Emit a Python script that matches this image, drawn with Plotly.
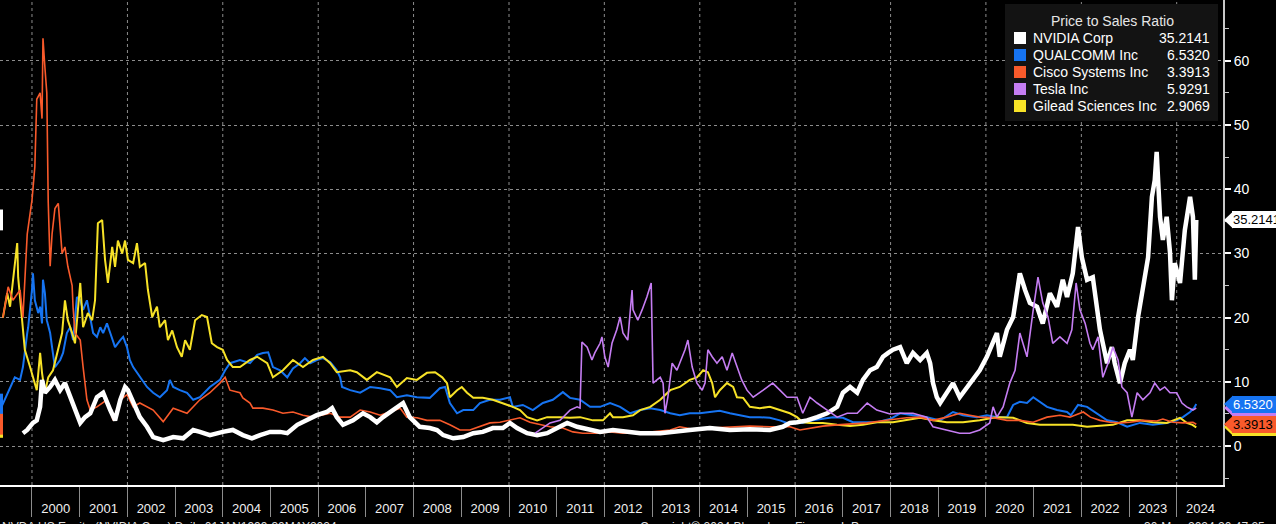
import numpy as np
import pandas as pd
import plotly.graph_objects as go

# ---------------- data (decimal-year time stamps, price/sales values) ----------------
nvda_t = [1999.81, 1999.90, 2000.02, 2000.10, 2000.17, 2000.21, 2000.27, 2000.38, 2000.48, 2000.59,
          2000.69, 2000.80, 2000.90, 2001.01, 2001.11, 2001.22, 2001.36, 2001.49, 2001.64, 2001.74,
          2001.85, 2001.95, 2002.01, 2002.12, 2002.26, 2002.41, 2002.54, 2002.75, 2002.96, 2003.17,
          2003.38, 2003.52, 2003.73, 2004.00, 2004.21, 2004.42, 2004.61, 2004.78, 2004.99, 2005.20,
          2005.35, 2005.56, 2005.77, 2005.97, 2006.18, 2006.29, 2006.39, 2006.52, 2006.73, 2006.94,
          2007.09, 2007.23, 2007.36, 2007.57, 2007.78, 2007.92, 2008.13, 2008.34, 2008.49, 2008.62,
          2008.83, 2009.04, 2009.25, 2009.45, 2009.66, 2009.87, 2010.02, 2010.17, 2010.38, 2010.59,
          2010.80, 2011.01, 2011.22, 2011.43, 2011.64, 2011.91, 2012.18, 2012.47, 2012.75, 2013.17,
          2013.38, 2013.79, 2014.21, 2014.63, 2015.05, 2015.47, 2015.74, 2015.89, 2016.04, 2016.25,
          2016.46, 2016.67, 2016.88, 2017.00, 2017.15, 2017.30, 2017.42, 2017.57, 2017.71, 2017.84,
          2017.95, 2018.05, 2018.20, 2018.34, 2018.47, 2018.62, 2018.76, 2018.83, 2018.89, 2018.97,
          2019.04, 2019.18, 2019.31, 2019.45, 2019.60, 2019.73, 2019.87, 2020.02, 2020.15, 2020.23,
          2020.29, 2020.44, 2020.57, 2020.71, 2020.82, 2020.92, 2021.07, 2021.19, 2021.34, 2021.49,
          2021.61, 2021.70, 2021.82, 2021.93, 2022.01, 2022.12, 2022.24, 2022.33, 2022.39, 2022.45,
          2022.54, 2022.64, 2022.70, 2022.81, 2022.91, 2023.02, 2023.08, 2023.19, 2023.29, 2023.40,
          2023.48, 2023.54, 2023.58, 2023.65, 2023.71, 2023.79, 2023.86, 2023.90, 2023.96, 2024.07,
          2024.17, 2024.28, 2024.34, 2024.38, 2024.41]
nvda_v = [2.0, 2.5, 3.6, 4.0, 6.1, 10.3, 8.3, 9.2, 10.3, 8.7,
          9.8, 7.6, 5.6, 3.6, 4.5, 5.1, 7.6, 8.3, 5.6, 4.0,
          7.2, 9.2, 8.7, 6.7, 4.5, 3.0, 1.4, 0.9, 1.4, 1.2,
          2.5, 2.2, 1.7, 2.2, 2.5, 1.7, 1.2, 1.7, 2.2, 2.2,
          2.0, 3.3, 4.0, 4.8, 5.3, 5.9, 4.5, 3.3, 4.0, 5.1,
          4.5, 3.7, 4.5, 5.6, 6.7, 4.5, 3.0, 2.8, 2.5, 1.7,
          1.2, 1.4, 2.0, 2.2, 2.8, 2.8, 3.6, 2.8, 2.0, 1.7,
          2.0, 2.8, 3.6, 3.0, 2.6, 2.2, 2.5, 2.2, 2.0, 2.0,
          2.2, 2.5, 2.8, 2.5, 2.6, 2.5, 3.0, 3.6, 3.7, 4.0,
          4.5, 5.1, 6.1, 8.3, 9.2, 8.3, 10.3, 11.8, 12.3, 13.9,
          14.5, 15.0, 15.4, 12.9, 14.5, 13.4, 14.5, 12.9, 9.8, 7.6,
          6.7, 8.3, 9.8, 7.6, 9.2, 10.6, 11.8, 13.9, 16.0, 17.6,
          13.9, 18.1, 20.1, 26.9, 24.3, 22.3, 21.7, 19.1, 23.8, 21.7,
          25.9, 23.2, 26.9, 34.1, 29.4, 25.9, 26.3, 20.7, 18.1, 16.0,
          12.9, 15.4, 12.9, 9.8, 12.9, 15.0, 13.4, 20.1, 24.3, 29.4,
          38.8, 41.4, 45.8, 35.7, 32.1, 35.7, 30.1, 22.7, 28.5, 25.4,
          33.6, 38.8, 35.7, 25.9, 35.2141]

qcom_t = [1999.33, 1999.43, 1999.54, 1999.64, 1999.75, 1999.81, 1999.90, 1999.92, 2000.00, 2000.02,
          2000.06, 2000.13, 2000.17, 2000.21, 2000.23, 2000.27, 2000.31, 2000.38, 2000.42, 2000.48,
          2000.59, 2000.65, 2000.73, 2000.80, 2000.86, 2000.94, 2001.01, 2001.07, 2001.15, 2001.22,
          2001.28, 2001.36, 2001.43, 2001.49, 2001.57, 2001.64, 2001.74, 2001.85, 2001.91, 2001.99,
          2002.05, 2002.12, 2002.20, 2002.26, 2002.41, 2002.54, 2002.68, 2002.83, 2002.89, 2002.96,
          2003.10, 2003.25, 2003.38, 2003.52, 2003.73, 2003.94, 2004.05, 2004.15, 2004.36, 2004.57,
          2004.72, 2004.84, 2004.95, 2005.05, 2005.20, 2005.35, 2005.47, 2005.62, 2005.72, 2005.83,
          2005.97, 2006.10, 2006.25, 2006.39, 2006.46, 2006.50, 2006.67, 2006.88, 2007.09, 2007.30,
          2007.51, 2007.65, 2007.86, 2008.07, 2008.34, 2008.55, 2008.66, 2008.76, 2008.91, 2009.04,
          2009.25, 2009.39, 2009.60, 2009.81, 2010.02, 2010.08, 2010.29, 2010.50, 2010.71, 2010.92,
          2011.13, 2011.28, 2011.49, 2011.70, 2011.91, 2012.12, 2012.33, 2012.54, 2012.75, 2012.96,
          2013.17, 2013.38, 2013.58, 2013.79, 2014.00, 2014.21, 2014.42, 2014.63, 2014.84, 2015.05,
          2015.26, 2015.47, 2015.68, 2015.83, 2016.04, 2016.16, 2016.37, 2016.58, 2016.79, 2017.00,
          2017.21, 2017.42, 2017.71, 2017.99, 2018.20, 2018.47, 2018.76, 2019.04, 2019.31, 2019.52,
          2019.81, 2020.02, 2020.23, 2020.44, 2020.57, 2020.71, 2020.86, 2020.99, 2021.13, 2021.28,
          2021.49, 2021.70, 2021.78, 2021.93, 2022.12, 2022.33, 2022.54, 2022.75, 2022.96, 2023.23,
          2023.50, 2023.79, 2024.00, 2024.13, 2024.28, 2024.36, 2024.41]
qcom_v = [5.6, 7.2, 9.2, 10.7, 10.3, 12.3, 17.6, 18.5, 24.3, 26.9,
          22.7, 20.7, 21.7, 19.1, 25.9, 23.8, 19.6, 17.6, 15.4, 12.3,
          13.4, 14.5, 17.6, 18.5, 16.5, 23.2, 22.7, 21.2, 22.7, 19.6,
          17.6, 17.0, 18.5, 17.6, 19.1, 17.6, 15.4, 16.5, 17.0, 15.4,
          13.4, 12.3, 11.4, 10.7, 9.2, 8.3, 7.6, 8.7, 10.3, 9.2,
          8.7, 8.3, 7.2, 7.6, 9.2, 10.3, 11.8, 12.9, 13.4, 12.9,
          14.2, 14.5, 14.6, 12.3, 11.8, 10.7, 12.1, 12.9, 13.7, 12.9,
          13.4, 13.7, 13.1, 11.8, 10.7, 9.2, 8.7, 8.3, 9.2, 9.0,
          8.7, 7.6, 7.9, 7.6, 7.5, 9.0, 9.2, 6.7, 5.1, 5.6,
          5.6, 6.7, 7.2, 7.2, 7.6, 6.1, 6.4, 5.6, 6.7, 7.2,
          8.4, 7.5, 7.2, 6.1, 6.1, 6.7, 6.1, 5.1, 5.6, 5.9,
          5.6, 5.1, 4.8, 5.1, 5.1, 5.3, 5.5, 5.1, 4.8, 4.5,
          4.5, 4.4, 4.0, 3.6, 3.7, 3.6, 4.0, 4.2, 4.5, 4.4,
          3.7, 3.7, 3.7, 4.2, 5.1, 4.8, 4.5, 4.0, 5.3, 4.8,
          4.5, 4.8, 4.5, 4.5, 6.4, 6.9, 6.7, 7.6, 6.9, 6.1,
          5.6, 5.3, 4.8, 6.4, 6.1, 5.1, 4.0, 3.7, 3.0, 3.6,
          3.3, 3.6, 4.0, 4.5, 5.3, 5.9, 6.5320]

csco_t = [1999.39, 1999.50, 1999.60, 1999.75, 1999.81, 1999.90, 2000.00, 2000.06, 2000.10, 2000.17,
          2000.21, 2000.23, 2000.27, 2000.31, 2000.34, 2000.38, 2000.42, 2000.48, 2000.55, 2000.59,
          2000.63, 2000.69, 2000.75, 2000.84, 2000.86, 2000.90, 2001.01, 2001.07, 2001.15, 2001.22,
          2001.36, 2001.57, 2001.70, 2001.85, 2001.99, 2002.12, 2002.26, 2002.54, 2002.75, 2002.96,
          2003.25, 2003.52, 2003.73, 2003.94, 2004.05, 2004.15, 2004.36, 2004.42, 2004.57, 2004.63,
          2004.84, 2005.05, 2005.26, 2005.47, 2005.68, 2005.89, 2006.10, 2006.25, 2006.46, 2006.67,
          2006.88, 2007.09, 2007.30, 2007.51, 2007.72, 2007.86, 2008.07, 2008.28, 2008.55, 2008.76,
          2008.97, 2009.18, 2009.39, 2009.60, 2009.81, 2010.02, 2010.23, 2010.44, 2010.65, 2010.86,
          2011.13, 2011.34, 2011.55, 2011.84, 2012.12, 2012.39, 2012.68, 2012.96, 2013.38, 2013.58,
          2013.86, 2014.21, 2014.63, 2015.05, 2015.47, 2015.89, 2016.10, 2016.31, 2016.58, 2016.88,
          2017.15, 2017.51, 2017.99, 2018.34, 2018.62, 2018.89, 2019.18, 2019.45, 2019.66, 2019.87,
          2020.15, 2020.44, 2020.71, 2020.99, 2021.28, 2021.55, 2021.76, 2022.04, 2022.19, 2022.39,
          2022.60, 2022.81, 2023.02, 2023.29, 2023.58, 2023.71, 2023.92, 2024.13, 2024.34, 2024.41]
csco_v = [20.0, 24.8, 22.7, 24.3, 20.0, 33.0, 38.3, 43.5, 54.0, 55.0,
          51.0, 63.5, 59.0, 55.0, 38.0, 28.0, 33.0, 37.0, 37.8, 33.0,
          30.0, 31.0, 28.0, 25.0, 21.6, 17.6, 16.5, 12.3, 7.2, 5.6,
          6.1, 7.2, 4.0, 7.2, 8.0, 6.1, 6.7, 5.6, 3.8, 5.9,
          5.1, 7.2, 8.3, 9.8, 10.7, 8.7, 8.3, 7.5, 6.7, 5.9,
          5.9, 5.6, 5.1, 5.3, 4.8, 4.5, 4.8, 5.1, 4.5, 4.5,
          5.6, 5.3, 4.8, 5.3, 5.9, 4.5, 4.4, 4.0, 4.0, 3.3,
          2.5, 2.5, 3.0, 3.6, 3.7, 4.0, 4.4, 3.7, 3.3, 3.0,
          2.8, 2.2, 2.0, 2.0, 2.2, 2.0, 2.0, 2.2, 2.5, 3.0,
          2.6, 2.8, 3.0, 3.1, 3.0, 3.0, 2.5, 2.8, 3.1, 3.3,
          3.4, 3.6, 4.1, 4.4, 4.5, 4.0, 4.5, 5.1, 4.8, 4.5,
          4.4, 4.0, 4.0, 3.7, 4.5, 4.8, 4.5, 5.3, 4.5, 4.0,
          3.7, 3.6, 3.7, 4.0, 3.9, 4.2, 3.7, 3.6, 3.7, 3.3913]

tsla_t = [2010.55, 2010.86, 2011.07, 2011.28, 2011.43, 2011.49, 2011.53, 2011.64, 2011.74, 2011.80,
          2011.91, 2011.95, 2012.01, 2012.08, 2012.16, 2012.26, 2012.33, 2012.39, 2012.49, 2012.58,
          2012.60, 2012.70, 2012.79, 2012.89, 2012.98, 2013.02, 2013.10, 2013.17, 2013.23, 2013.27,
          2013.33, 2013.42, 2013.52, 2013.63, 2013.69, 2013.75, 2013.84, 2013.94, 2014.05, 2014.11,
          2014.17, 2014.26, 2014.36, 2014.47, 2014.57, 2014.68, 2014.78, 2014.88, 2014.99, 2015.12,
          2015.33, 2015.53, 2015.68, 2015.83, 2016.04, 2016.16, 2016.31, 2016.46, 2016.67, 2016.88,
          2017.09, 2017.30, 2017.51, 2017.71, 2017.99, 2018.20, 2018.47, 2018.76, 2018.89, 2019.18,
          2019.45, 2019.66, 2019.87, 2020.08, 2020.15, 2020.23, 2020.36, 2020.50, 2020.61, 2020.71,
          2020.86, 2020.99, 2021.09, 2021.19, 2021.30, 2021.40, 2021.55, 2021.70, 2021.80, 2021.89,
          2021.97, 2022.08, 2022.18, 2022.24, 2022.35, 2022.45, 2022.56, 2022.66, 2022.77, 2022.85,
          2022.96, 2023.06, 2023.17, 2023.29, 2023.44, 2023.54, 2023.65, 2023.75, 2023.86, 2024.00,
          2024.11, 2024.21, 2024.34, 2024.41]
tsla_v = [2.0, 3.6, 4.0, 5.6, 6.1, 5.9, 16.2, 15.4, 13.4, 14.5,
          16.0, 17.0, 13.9, 12.3, 16.0, 18.1, 20.1, 17.6, 16.5, 24.3,
          21.2, 19.6, 21.2, 23.2, 25.4, 9.8, 10.3, 10.7, 9.8, 5.1,
          7.6, 12.9, 11.8, 13.9, 15.0, 16.5, 12.3, 9.8, 8.7, 9.8,
          15.0, 13.9, 12.9, 13.9, 11.8, 14.5, 12.3, 10.3, 8.7, 7.6,
          8.7, 9.8, 8.7, 7.6, 7.6, 5.1, 7.6, 6.7, 5.6, 4.5,
          5.1, 5.1, 6.7, 5.6, 5.0, 5.1, 5.1, 4.5, 3.0, 2.5,
          2.0, 2.0, 2.5, 3.6, 6.1, 4.5, 6.1, 9.8, 11.8, 17.6,
          13.9, 21.2, 26.3, 22.3, 20.1, 16.0, 17.0, 16.0, 18.1, 25.4,
          21.2, 19.1, 16.0, 15.0, 17.0, 10.7, 12.9, 15.4, 13.4, 9.2,
          8.3, 4.5, 8.3, 7.2, 8.3, 9.8, 8.7, 9.2, 8.3, 8.3,
          6.7, 6.1, 5.6, 5.9291]

gild_t = [1999.39, 1999.48, 1999.54, 1999.64, 1999.69, 1999.71, 1999.75, 1999.81, 1999.85, 1999.96,
          2000.06, 2000.10, 2000.17, 2000.21, 2000.27, 2000.34, 2000.44, 2000.55, 2000.63, 2000.69,
          2000.75, 2000.84, 2000.90, 2001.01, 2001.07, 2001.17, 2001.26, 2001.32, 2001.38, 2001.47,
          2001.53, 2001.59, 2001.68, 2001.74, 2001.80, 2001.89, 2001.95, 2002.01, 2002.12, 2002.20,
          2002.26, 2002.37, 2002.43, 2002.52, 2002.62, 2002.68, 2002.79, 2002.85, 2002.94, 2003.04,
          2003.14, 2003.21, 2003.31, 2003.42, 2003.56, 2003.67, 2003.77, 2003.88, 2004.00, 2004.09,
          2004.21, 2004.36, 2004.57, 2004.72, 2004.93, 2005.05, 2005.26, 2005.47, 2005.68, 2005.89,
          2006.10, 2006.25, 2006.39, 2006.67, 2006.81, 2007.02, 2007.23, 2007.51, 2007.65, 2007.86,
          2008.07, 2008.28, 2008.45, 2008.60, 2008.70, 2008.76, 2008.91, 2009.01, 2009.12, 2009.25,
          2009.45, 2009.66, 2009.87, 2010.08, 2010.23, 2010.38, 2010.59, 2010.80, 2011.07, 2011.28,
          2011.49, 2011.76, 2011.97, 2012.12, 2012.18, 2012.39, 2012.60, 2012.75, 2012.96, 2013.17,
          2013.38, 2013.58, 2013.79, 2013.94, 2014.07, 2014.17, 2014.26, 2014.32, 2014.42, 2014.57,
          2014.70, 2014.78, 2014.91, 2015.05, 2015.26, 2015.47, 2015.68, 2015.89, 2016.04, 2016.16,
          2016.31, 2016.58, 2016.88, 2017.15, 2017.42, 2017.71, 2018.05, 2018.34, 2018.62, 2018.89,
          2019.18, 2019.52, 2019.87, 2020.15, 2020.29, 2020.57, 2020.86, 2021.13, 2021.40, 2021.70,
          2021.82, 2022.12, 2022.39, 2022.66, 2022.96, 2023.23, 2023.50, 2023.79, 2024.07, 2024.21,
          2024.33, 2024.41]
gild_v = [20.0, 23.8, 21.7, 27.9, 31.6, 26.3, 22.7, 17.6, 15.0, 12.3,
          9.8, 8.7, 14.5, 11.4, 8.3, 10.7, 11.8, 15.0, 17.6, 22.7,
          19.6, 17.6, 16.0, 25.4, 18.5, 20.7, 19.6, 22.7, 34.7, 35.2,
          29.0, 25.4, 31.0, 27.9, 32.0, 30.0, 32.0, 29.0, 28.5, 31.6,
          27.9, 28.5, 24.3, 20.1, 21.7, 18.5, 19.6, 16.5, 18.0, 15.4,
          13.9, 16.5, 15.0, 19.6, 20.4, 20.1, 16.0, 15.4, 15.0, 13.4,
          12.3, 12.3, 13.4, 13.9, 12.9, 10.7, 11.8, 13.4, 12.3, 13.4,
          13.9, 12.9, 11.5, 11.8, 11.5, 10.3, 11.5, 10.7, 9.2, 10.6,
          10.3, 11.4, 11.5, 10.7, 9.8, 7.6, 8.7, 9.2, 8.3, 7.5,
          7.5, 7.2, 6.7, 6.1, 5.6, 4.5, 4.0, 4.5, 4.5, 4.4,
          4.5, 4.0, 4.0, 5.1, 4.5, 4.5, 4.8, 5.6, 6.1, 7.2,
          8.7, 9.2, 10.3, 10.7, 11.8, 11.5, 9.8, 7.6, 8.7, 9.8,
          9.2, 7.6, 7.5, 6.1, 5.9, 6.1, 5.6, 5.1, 4.5, 3.7,
          3.6, 3.6, 3.3, 3.1, 3.3, 3.7, 3.7, 4.0, 4.4, 4.0,
          3.7, 3.7, 4.0, 4.4, 4.5, 4.4, 3.6, 3.3, 3.3, 3.4,
          3.3, 3.0, 3.1, 3.3, 4.0, 4.0, 3.7, 3.6, 4.4, 3.6,
          3.3, 2.9069]

series_names = ["NVIDIA Corp", "QUALCOMM Inc", "Cisco Systems Inc", "Tesla Inc", "Gilead Sciences Inc"]
year_labels = list(range(2000, 2025))
y_ticks = [0, 10, 20, 30, 40, 50, 60]
legend_title = "Price to Sales Ratio"

# ---------------- styling ----------------
colors = ["#ffffff", "#1674f2", "#f95a2b", "#c57df2", "#f7e227"]
widths = [4.5, 2.0, 1.6, 1.6, 2.0]
label_colors = ["#000000", "#ffffff", "#000000", "#000000", "#000000"]
FONT = "Liberation Sans, Arial, sans-serif"

series_t = [nvda_t, qcom_t, csco_t, tsla_t, gild_t]
series_v = [nvda_v, qcom_v, csco_v, tsla_v, gild_v]
for t, v in zip(series_t, series_v):
    assert len(t) == len(v), (len(t), len(v))


def dec2dt(y):
    yr = int(np.floor(y))
    start = pd.Timestamp(year=yr, month=1, day=1)
    end = pd.Timestamp(year=yr + 1, month=1, day=1)
    return start + (end - start) * (y - yr)


W, H = 1276, 524
ML, MR, MT, MB = 0, 53, 0, 39
PW, PH = W - ML - MR, H - MT - MB


def px2x(px):
    return (px - ML) / PW


def px2y(py):
    return 1 - (py - MT) / PH


fig = go.Figure()
draw_order = [1, 4, 2, 0, 3]
for i in draw_order:
    fig.add_trace(go.Scatter(
        x=[dec2dt(t) for t in series_t[i]], y=series_v[i], mode="lines",
        name=series_names[i], line=dict(color=colors[i], width=widths[i]),
        hoverinfo="skip", showlegend=False))

x0 = dec2dt(1999.329)
x1 = dec2dt(2024.969)
gridc = "#8c8c8c"

# vertical dotted grid at even years
for yr in year_labels:
    if yr % 2 == 0:
        fig.add_shape(type="line", xref="x", yref="paper",
                      x0=pd.Timestamp(year=yr, month=1, day=1), x1=pd.Timestamp(year=yr, month=1, day=1),
                      y0=0, y1=1, line=dict(color=gridc, width=1, dash="dot"), layer="below")

# legend box
fig.add_shape(type="rect", xref="paper", yref="paper",
              x0=px2x(1005), x1=px2x(1218), y0=px2y(121), y1=px2y(4),
              fillcolor="#131313", line=dict(width=0), layer="above")
fig.add_annotation(xref="paper", yref="paper", x=px2x(1112), y=px2y(21), text=legend_title,
                   showarrow=False, xanchor="center", yanchor="middle",
                   font=dict(size=14, color="#e6e6e6", family=FONT))
for k, name in enumerate(series_names):
    cy = 38 + 17 * k
    fig.add_shape(type="rect", xref="paper", yref="paper",
                  x0=px2x(1014), x1=px2x(1026), y0=px2y(cy + 6), y1=px2y(cy - 6),
                  fillcolor=colors[k], line=dict(width=0), layer="above")
    fig.add_annotation(xref="paper", yref="paper", x=px2x(1031), y=px2y(cy), text=name,
                       showarrow=False, xanchor="left", yanchor="middle",
                       font=dict(size=14, color="#ffffff", family=FONT))
    fig.add_annotation(xref="paper", yref="paper", x=px2x(1212), y=px2y(cy),
                       text=f"{series_v[k][-1]:.4f}",
                       showarrow=False, xanchor="right", yanchor="middle",
                       font=dict(size=14, color="#ffffff", family=FONT))

# last-value tags on the right axis (and cut-off ones on the left edge)
half = 8.5 / 6.42
tag_order = [3, 1, 4, 2, 0]
for k in tag_order:
    v = series_v[k][-1]
    xa, xb = px2x(1224), px2x(1233)
    fig.add_shape(type="path", xref="paper", yref="y",
                  path=f"M {xa},{v} L {xb},{v + half} L {xb},{v - half} Z",
                  fillcolor=colors[k], line=dict(width=0), layer="above")
    fig.add_annotation(xref="paper", yref="y", x=px2x(1232), y=v, text=f"{v:.4f}",
                       showarrow=False, xanchor="left", yanchor="middle",
                       width=60, align="left", bgcolor=colors[k], borderpad=1, borderwidth=0,
                       font=dict(size=13, color=label_colors[k], family=FONT))
    fig.add_shape(type="rect", xref="paper", yref="y",
                  x0=px2x(-2), x1=px2x(3), y0=v - half - 0.3, y1=v + half + 0.3,
                  fillcolor=colors[k], line=dict(width=0), layer="above")

# footer texts (cut off at the bottom)
foot_font = dict(size=12, color="#dcdcdc", family=FONT)
fig.add_annotation(xref="paper", yref="paper", x=px2x(0), y=px2y(527), showarrow=False,
                   xanchor="left", yanchor="middle", font=foot_font,
                   text="NVDA US Equity (NVIDIA Corp) Daily 01JAN1999-30MAY2024")
fig.add_annotation(xref="paper", yref="paper", x=px2x(638), y=px2y(527), showarrow=False,
                   xanchor="left", yanchor="middle", font=foot_font,
                   text="Copyright\u00a9 2024 Bloomberg Finance L.P.")
fig.add_annotation(xref="paper", yref="paper", x=px2x(1142), y=px2y(527), showarrow=False,
                   xanchor="left", yanchor="middle", font=foot_font,
                   text="30-May-2024 20:47:25")

fig.update_layout(
    width=W, height=H, autosize=False,
    margin=dict(l=ML, r=MR, t=MT, b=MB, pad=0),
    paper_bgcolor="#000000", plot_bgcolor="#000000",
    showlegend=False,
    font=dict(family=FONT, color="#ffffff", size=13),
    xaxis=dict(
        type="date", range=[x0, x1], fixedrange=True,
        tickmode="array",
        tickvals=[pd.Timestamp(year=y, month=7, day=1) for y in year_labels],
        ticktext=[str(y) for y in year_labels],
        ticks="", showgrid=False, zeroline=False,
        showline=True, linecolor="#ffffff", linewidth=1.5,
        tickfont=dict(size=13, color="#f0f0f0"),
        ticklabelstandoff=11,
        minor=dict(tickmode="array",
                   tickvals=[pd.Timestamp(year=y, month=1, day=1) for y in year_labels],
                   ticks="outside", ticklen=30, tickwidth=1, tickcolor="#8c8c8c", showgrid=False),
    ),
    yaxis=dict(
        range=[-6.07, 69.47], side="right", fixedrange=True,
        tickmode="array", tickvals=y_ticks, ticktext=[str(t) for t in y_ticks],
        showgrid=True, gridcolor=gridc, griddash="dot", gridwidth=1,
        zeroline=False,
        showline=True, linecolor="#c8c8c8", linewidth=2,
        ticks="outside", ticklen=6, tickwidth=2, tickcolor="#ffffff",
        tickfont=dict(size=14, color="#ffffff"),
        minor=dict(tickmode="array", tickvals=[-5, 5, 15, 25, 35, 45, 55, 65],
                   ticks="outside", ticklen=4, tickwidth=1, tickcolor="#c8c8c8", showgrid=False),
    ),
)

fig.write_html("out.html", config={"displayModeBar": False},
               post_script="document.body.style.margin='0';document.body.style.overflow='hidden';")
